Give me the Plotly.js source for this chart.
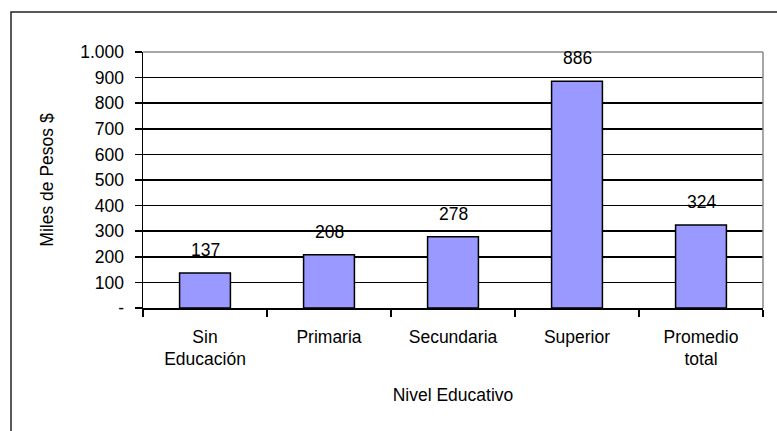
<!DOCTYPE html>
<html>
<head>
<meta charset="utf-8">
<script src="https://cdn.plot.ly/plotly-3.0.1.min.js"></script>
<style>
  html, body { margin: 0; padding: 0; background: #fff; }
  #chart { width: 777px; height: 431px; }
</style>
</head>
<body>
<div id="chart"></div>
<script>
const categories = ["Sin<br>Educación", "Primaria", "Secundaria", "Superior", "Promedio<br>total"];
const values = [137, 208, 278, 886, 324];
const labels = ["137", "208", "278", "886", "324"];
const yTickVals = [0, 100, 200, 300, 400, 500, 600, 700, 800, 900, 1000];
const yTickText = ["-", "100", "200", "300", "400", "500", "600", "700", "800", "900", "1.000"];

const FONT = "Liberation Sans, Arial, sans-serif";
const FS = 17.5;

const trace = {
  type: "bar",
  x: categories,
  y: values,
  marker: {
    color: "#9999FF",
    line: { color: "#000000", width: 1.5 }
  },
  hoverinfo: "skip"
};

const annotations = categories.map((c, i) => ({
  x: c, y: values[i], xref: "x", yref: "y",
  text: labels[i], showarrow: false,
  yanchor: "middle", yshift: 23,
  font: { family: FONT, size: FS, color: "#000" }
}));

const layout = {
  width: 777, height: 431,
  margin: { l: 143, r: 14, t: 52, b: 123 },
  paper_bgcolor: "#ffffff",
  plot_bgcolor: "#ffffff",
  showlegend: false,
  bargap: 0.59,
  font: { family: FONT, size: FS, color: "#000" },
  xaxis: {
    type: "category",
    tickson: "boundaries",
    ticks: "outside", ticklen: 7, tickwidth: 1.5, tickcolor: "#000",
    showline: true, linecolor: "#000", linewidth: 1.5,
    showgrid: false, zeroline: false,
    tickfont: { family: FONT, size: FS, color: "#000" },
    ticklabelstandoff: 12,
    title: { text: "Nivel Educativo", font: { family: FONT, size: FS, color: "#000" }, standoff: 20 },
    fixedrange: true
  },
  yaxis: {
    range: [0, 1000],
    tickmode: "array", tickvals: yTickVals, ticktext: yTickText,
    ticks: "outside", ticklen: 7, tickwidth: 1.5, tickcolor: "#000",
    showline: true, linecolor: "#000", linewidth: 1.5,
    showgrid: true, gridcolor: "#000", gridwidth: 1.5,
    zeroline: false,
    tickfont: { family: FONT, size: FS, color: "#000" },
    ticklabelstandoff: 7,
    title: { text: "Miles de Pesos $", font: { family: FONT, size: FS, color: "#000" }, standoff: 22 },
    fixedrange: true
  },
  shapes: [
    { type: "line", xref: "paper", yref: "paper", x0: 0, x1: 1, y0: 1, y1: 1,
      line: { color: "#8a8a8a", width: 1.5 } },
    { type: "line", xref: "paper", yref: "paper", x0: 1, x1: 1, y0: 0, y1: 1,
      line: { color: "#8a8a8a", width: 1.5 } },
    { type: "rect", xref: "paper", yref: "paper",
      x0: (11 - 143) / 620, x1: 1.2, y0: -0.6, y1: (308 - 12) / 256,
      line: { color: "#222", width: 1.5 }, fillcolor: "rgba(0,0,0,0)" }
  ],
  annotations: annotations
};

Plotly.newPlot("chart", [trace], layout, { displayModeBar: false, staticPlot: true });
</script>
</body>
</html>
